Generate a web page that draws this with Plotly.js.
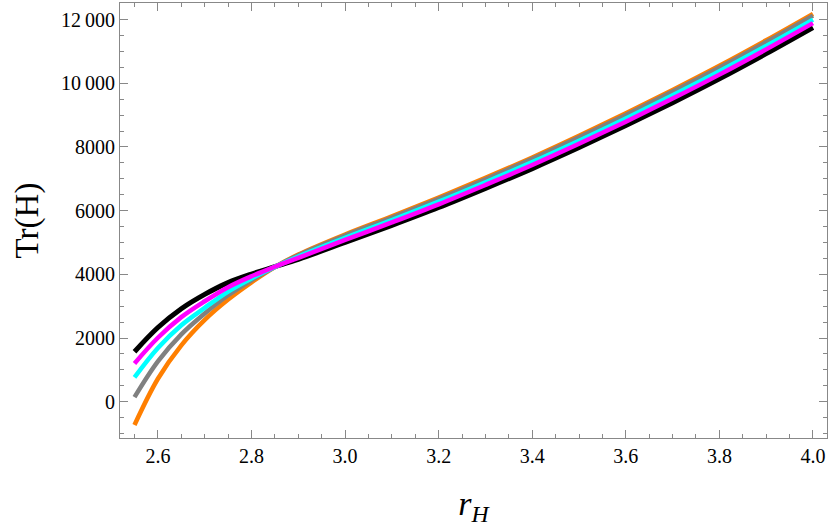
<!DOCTYPE html>
<html>
<head>
<meta charset="utf-8">
<script src="https://cdn.plot.ly/plotly-3.0.1.min.js"></script>
<style>
  html, body { margin: 0; padding: 0; background: white; }
  #graph { width: 830px; height: 527px; }
</style>
</head>
<body>
<div id="graph"></div>
<script>
// r_H sample points
const rH = [2.55, 2.6, 2.65, 2.7, 2.75, 2.8, 2.85, 2.9, 3.0, 3.1, 3.2, 3.3, 3.4, 3.5, 3.6, 3.7, 3.8, 3.9, 4.0]

// Tr(H) curves
const trBlack   = [1570, 2330, 2920, 3370, 3740, 4010, 4240, 4470, 5000, 5540, 6100, 6700, 7320, 7980, 8670, 9390, 10140, 10930, 11750]
const trOrange  = [-730, 720, 1770, 2570, 3210, 3750, 4230, 4620, 5250, 5820, 6410, 7030, 7670, 8350, 9055, 9790, 10550, 11350, 12180]
const trGray    = [144, 1267, 2115, 2770, 3342, 3815, 4232, 4601, 5218, 5784, 6370, 6987, 7625, 8302, 9005, 9738, 10497, 11295, 12124]
const trCyan    = [765, 1686, 2402, 2946, 3459, 3872, 4234, 4557, 5145, 5702, 6280, 6891, 7523, 8195, 8893, 9622, 10378, 11174, 11999]
const trMagenta = [1202, 2008, 2655, 3154, 3597, 3940, 4237, 4518, 5080, 5630, 6199, 6806, 7432, 8098, 8793, 9518, 10271, 11064, 11888]

// tick labels
const xTickVals = [2.6, 2.8, 3.0, 3.2, 3.4, 3.6, 3.8, 4.0]
const xTickText = ['2.6', '2.8', '3.0', '3.2', '3.4', '3.6', '3.8', '4.0']
const yTickVals = [0, 2000, 4000, 6000, 8000, 10000, 12000]
const yTickText = ['0', '2000', '4000', '6000', '8000', '10\u2009000', '12\u2009000']

function curva(y, cor, larg) {
    return {
        x: rH,
        y: y,
        type: 'scatter',
        mode: 'lines',
        line: { color: cor, width: larg, shape: 'spline', smoothing: 1 },
        hoverinfo: 'skip'
    }
}

const traces = [
    curva(trBlack, '#000000', 5),
    curva(trOrange, '#FF7F00', 4.5),
    curva(trGray, '#808080', 4.5),
    curva(trCyan, '#00FFFF', 4.5),
    curva(trMagenta, '#FF00FF', 4.5)
]

const serif = '"Liberation Serif", "Times New Roman", serif'

const layout = {
    width: 830,
    height: 527,
    margin: { l: 120, r: 3, t: 3, b: 89 },
    paper_bgcolor: 'white',
    plot_bgcolor: 'white',
    showlegend: false,
    font: { family: serif, color: '#000' },
    xaxis: {
        range: [2.519, 4.03],
        tickvals: xTickVals,
        ticktext: xTickText,
        ticks: 'inside',
        ticklen: 8,
        tickwidth: 1,
        tickcolor: '#888',
        minor: { dtick: 0.05, tick0: 2.5, ticks: 'inside', ticklen: 4, tickcolor: '#888' },
        showline: true,
        linecolor: '#888',
        linewidth: 1,
        mirror: 'ticks',
        showgrid: false,
        zeroline: false,
        tickfont: { family: serif, size: 20, color: '#000' },
        title: { text: '<i>r</i><sub><i>H</i></sub>', font: { family: serif, size: 34, color: '#000' }, standoff: 26 }
    },
    yaxis: {
        range: [-1140, 12520],
        tickvals: yTickVals,
        ticktext: yTickText,
        ticks: 'inside',
        ticklen: 8,
        tickwidth: 1,
        tickcolor: '#888',
        minor: { dtick: 500, tick0: 0, ticks: 'inside', ticklen: 4, tickcolor: '#888' },
        showline: true,
        linecolor: '#888',
        linewidth: 1,
        mirror: 'ticks',
        showgrid: false,
        zeroline: false,
        tickfont: { family: serif, size: 20, color: '#000' },
        title: { text: 'Tr(H)', font: { family: serif, size: 33, color: '#000' }, standoff: 12 }
    }
}

Plotly.newPlot('graph', traces, layout, { staticPlot: true, displayModeBar: false })
</script>
</body>
</html>
